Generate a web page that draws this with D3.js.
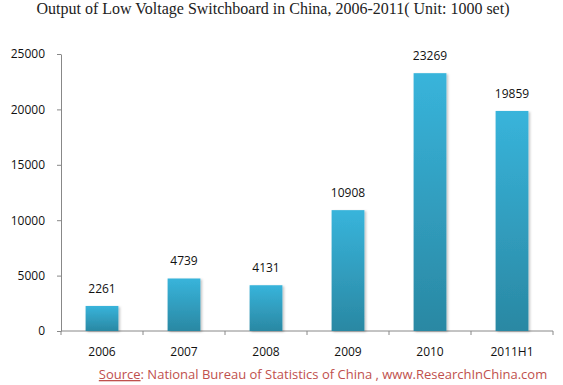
<!DOCTYPE html>
<html>
<head>
<meta charset="utf-8">
<script src="https://cdn.jsdelivr.net/npm/d3@7"></script>
<style>
  body { margin: 0; background: #fff; }
  text { font-family: "Open Sans", "Noto Sans", sans-serif; }
</style>
</head>
<body>
<div id="vis"></div>
<script>
// chart data
const years = ["2006", "2007", "2008", "2009", "2010", "2011H1"];
const output = [2261, 4739, 4131, 10908, 23269, 19859];
const yTicks = [0, 5000, 10000, 15000, 20000, 25000];

let margin = { top: 54, left: 61, right: 10, bottom: 54 },
  width = 492,
  height = 277;

let svg = d3.select('#vis')
  .append('svg')
  .attr('width', 563)
  .attr('height', 385);

// bar gradient + soft shadow
let defs = svg.append('defs');
let grad = defs.append('linearGradient')
  .attr('id', 'barGrad')
  .attr('x1', 0).attr('y1', 0).attr('x2', 0).attr('y2', 1);
grad.append('stop').attr('offset', '0%').attr('stop-color', '#38b4db');
grad.append('stop').attr('offset', '100%').attr('stop-color', '#2a88a3');
let shadow = defs.append('filter').attr('id', 'shadow')
  .attr('x', '-20%').attr('y', '-10%').attr('width', '150%').attr('height', '130%');
shadow.append('feDropShadow')
  .attr('dx', 1.5).attr('dy', 1).attr('stdDeviation', 1.2)
  .attr('flood-color', '#000').attr('flood-opacity', 0.25);

// title
svg.append('text')
  .attr('x', 273)
  .attr('y', 14)
  .attr('text-anchor', 'middle')
  .style('font-family', '"Liberation Serif", "DejaVu Serif", serif')
  .style('font-size', '16px')
  .attr('fill', '#222')
  .text('Output of Low Voltage Switchboard in China, 2006-2011( Unit: 1000 set)');

let g = svg.append('g')
  .attr('transform', `translate(${margin.left},${margin.top})`);

const x = d3.scaleBand()
  .domain(years)
  .range([0, width])
  .paddingInner(0.6)
  .paddingOuter(0.3);

const y = d3.scaleLinear()
  .domain([0, 25000])
  .range([height, 0]);

// y axis
let yAxis = g.append('g')
  .call(d3.axisLeft(y).tickValues(yTicks).tickFormat(d3.format('d'))
    .tickSize(4).tickSizeOuter(0).tickPadding(12));
yAxis.select('.domain').attr('stroke', '#888');
yAxis.selectAll('.tick line').attr('stroke', '#888');
yAxis.selectAll('text')
  .style('font-size', '12px')
  .attr('fill', '#111');

// x axis with ticks between categories
let xAxisG = g.append('g')
  .attr('transform', `translate(0,${height})`);
xAxisG.append('line')
  .attr('x1', 0).attr('x2', width)
  .attr('stroke', '#888');
xAxisG.selectAll('.sep')
  .data(d3.range(years.length + 1))
  .enter()
  .append('line')
  .attr('x1', i => i * x.step())
  .attr('x2', i => i * x.step())
  .attr('y1', 0)
  .attr('y2', 4)
  .attr('stroke', '#888');
xAxisG.selectAll('.lbl')
  .data(years)
  .enter()
  .append('text')
  .attr('x', d => x(d) + x.bandwidth() / 2)
  .attr('y', 25)
  .attr('text-anchor', 'middle')
  .style('font-size', '12px')
  .attr('fill', '#111')
  .text(d => d);

// bars
g.selectAll('.bar')
  .data(output)
  .enter()
  .append('rect')
  .attr('x', (d, i) => x(years[i]))
  .attr('y', d => y(d))
  .attr('width', x.bandwidth())
  .attr('height', d => height - y(d))
  .attr('fill', 'url(#barGrad)')
  .attr('filter', 'url(#shadow)');

// value labels
g.selectAll('.val')
  .data(output)
  .enter()
  .append('text')
  .attr('x', (d, i) => x(years[i]) + x.bandwidth() / 2)
  .attr('y', d => y(d) - 13)
  .attr('text-anchor', 'middle')
  .style('font-size', '12px')
  .attr('fill', '#111')
  .text(d => d);

// source line
let src = svg.append('text')
  .attr('x', 323)
  .attr('y', 379)
  .attr('text-anchor', 'middle')
  .style('font-size', '13px')
  .attr('fill', '#c0504d');
src.append('tspan').style('text-decoration', 'underline').text('Source');
src.append('tspan').text(': National Bureau of Statistics of China , www.ResearchInChina.com');
</script>
</body>
</html>
